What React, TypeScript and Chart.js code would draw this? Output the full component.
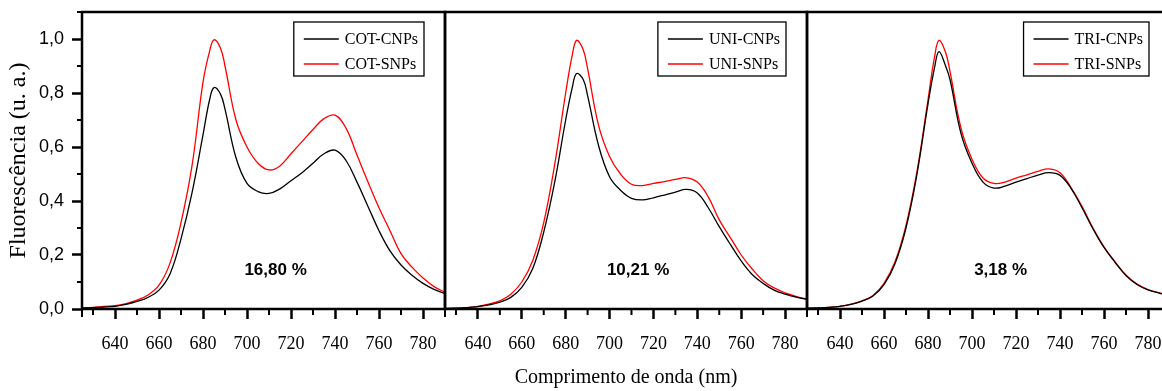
import React, { useEffect, useRef } from 'react';
import { Chart, registerables } from 'chart.js';

Chart.register(...registerables);

// ---------- data ----------
const wavelengths = [625, 630, 635, 640, 645, 650, 655, 660, 665, 670, 675, 680, 683, 685, 688, 690, 695, 700, 705, 710, 715, 720, 725, 730, 735, 740, 745, 750, 755, 760, 765, 770, 775, 780, 785, 790];

const cotCNPs = [0.003, 0.005, 0.007, 0.010, 0.017, 0.028, 0.043, 0.07, 0.13, 0.26, 0.43, 0.645, 0.775, 0.82, 0.795, 0.74, 0.56, 0.465, 0.435, 0.428, 0.445, 0.475, 0.505, 0.54, 0.575, 0.588, 0.55, 0.47, 0.38, 0.29, 0.215, 0.163, 0.125, 0.095, 0.073, 0.057];
const cotSNPs = [0.004, 0.006, 0.010, 0.012, 0.02, 0.033, 0.052, 0.088, 0.17, 0.32, 0.53, 0.84, 0.955, 0.997, 0.965, 0.90, 0.70, 0.60, 0.54, 0.515, 0.53, 0.575, 0.62, 0.665, 0.705, 0.718, 0.67, 0.57, 0.47, 0.375, 0.29, 0.205, 0.155, 0.115, 0.083, 0.062];

const uniCNPs = [0.002, 0.003, 0.005, 0.009, 0.015, 0.025, 0.043, 0.08, 0.15, 0.285, 0.47, 0.70, 0.82, 0.872, 0.85, 0.79, 0.605, 0.49, 0.44, 0.41, 0.404, 0.412, 0.422, 0.433, 0.443, 0.43, 0.375, 0.305, 0.24, 0.178, 0.128, 0.095, 0.07, 0.055, 0.044, 0.036];
const uniSNPs = [0.002, 0.003, 0.005, 0.01, 0.018, 0.03, 0.055, 0.10, 0.18, 0.32, 0.535, 0.80, 0.94, 0.995, 0.96, 0.89, 0.68, 0.565, 0.50, 0.462, 0.457, 0.465, 0.472, 0.48, 0.486, 0.47, 0.415, 0.33, 0.265, 0.20, 0.148, 0.105, 0.078, 0.06, 0.047, 0.036];

const triCNPs = [0.003, 0.004, 0.006, 0.01, 0.017, 0.029, 0.048, 0.09, 0.168, 0.30, 0.50, 0.76, 0.895, 0.953, 0.90, 0.85, 0.65, 0.54, 0.47, 0.448, 0.455, 0.47, 0.483, 0.496, 0.505, 0.495, 0.447, 0.375, 0.297, 0.228, 0.173, 0.124, 0.091, 0.071, 0.059, 0.05];
const triSNPs = [0.003, 0.004, 0.006, 0.01, 0.018, 0.03, 0.05, 0.095, 0.175, 0.31, 0.51, 0.775, 0.935, 0.995, 0.95, 0.88, 0.67, 0.555, 0.485, 0.465, 0.47, 0.485, 0.497, 0.51, 0.519, 0.505, 0.45, 0.38, 0.30, 0.23, 0.175, 0.125, 0.092, 0.072, 0.06, 0.05];

const cotLabels = ['COT-CNPs', 'COT-SNPs'];
const uniLabels = ['UNI-CNPs', 'UNI-SNPs'];
const triLabels = ['TRI-CNPs', 'TRI-SNPs'];
const quenchingLabels = ['16,80 %', '10,21 %', '3,18 %'];

const yAxisTitle = 'Fluorescência (u. a.)';
const xAxisTitle = 'Comprimento de onda (nm)';

// ---------- style / layout ----------
const SERIF = '"Liberation Serif", "Times New Roman", serif';
const SANS = '"Liberation Sans", Arial, sans-serif';
const H = 391;
const X_MIN = 625;
const X_MAX = 790;
const Y_MIN = 0;
const Y_MAX = 1.1;
const LABEL_AT_X = 713;
const LABEL_AT_Y = 0.145;

const PANEL_LAYOUT = [
  { left: 0, width: 450, padLeft: 0, padRight: 5, showY: true, showXTitle: false },
  { left: 440, width: 372, padLeft: 5, padRight: 5, showY: false, showXTitle: true },
  { left: 802, width: 372, padLeft: 5, padRight: 4, showY: false, showXTitle: false },
];

const PANEL_DATA = [
  { black: cotCNPs, red: cotSNPs, labels: cotLabels, pct: quenchingLabels[0] },
  { black: uniCNPs, red: uniSNPs, labels: uniLabels, pct: quenchingLabels[1] },
  { black: triCNPs, red: triSNPs, labels: triLabels, pct: quenchingLabels[2] },
];

function makeDecor(pct: string, showY: boolean) {
  return {
    id: 'panelDecor',
    afterDatasetsDraw(chart: any) {
      const { ctx, chartArea: a, scales } = chart;
      const x = scales.x;
      const y = scales.y;
      ctx.save();
      // frame
      ctx.strokeStyle = '#000';
      ctx.lineWidth = 2.5;
      ctx.strokeRect(a.left, a.top, a.right - a.left, a.bottom - a.top);
      // minor x ticks
      ctx.lineWidth = 2;
      ctx.beginPath();
      const xt = x.ticks.map((t: any) => t.value);
      const minorX: number[] = [];
      xt.forEach((v: number) => {
        minorX.push(v - 10);
      });
      if (xt.length) minorX.push(xt[xt.length - 1] + 10);
      minorX.forEach((v) => {
        if (v < X_MIN || v > X_MAX) return;
        const px = x.getPixelForValue(v);
        ctx.moveTo(px, a.bottom);
        ctx.lineTo(px, a.bottom + 6);
      });
      // small downward tick at panel left edge
      ctx.moveTo(a.left, a.bottom);
      ctx.lineTo(a.left, a.bottom + 8);
      if (showY) {
        const yt = y.ticks.map((t: any) => t.value);
        yt.forEach((v: number) => {
          const mv = v + 0.1;
          if (mv > Y_MAX) return;
          const py = y.getPixelForValue(mv);
          ctx.moveTo(a.left, py);
          ctx.lineTo(a.left - 5, py);
        });
      }
      ctx.stroke();

      // quenching percentage
      ctx.fillStyle = '#000';
      ctx.font = `bold 17px ${SANS}`;
      ctx.textAlign = 'center';
      ctx.textBaseline = 'middle';
      ctx.fillText(pct, x.getPixelForValue(LABEL_AT_X), y.getPixelForValue(LABEL_AT_Y));

      // legend box
      ctx.font = `16px ${SERIF}`;
      ctx.textAlign = 'left';
      const ds = chart.data.datasets;
      let maxW = 0;
      ds.forEach((d: any) => {
        maxW = Math.max(maxW, ctx.measureText(d.label).width);
      });
      const boxW = 10 + 35 + 6 + maxW + 6;
      const boxH = 54;
      const bx = a.right - 21 - boxW;
      const by = a.top + 10;
      ctx.lineWidth = 1.3;
      ctx.strokeStyle = '#000';
      ctx.strokeRect(bx, by, boxW, boxH);
      ds.forEach((d: any, i: number) => {
        const ry = by + 17 + i * 25;
        ctx.strokeStyle = d.borderColor;
        ctx.lineWidth = 1.4;
        ctx.beginPath();
        ctx.moveTo(bx + 10, ry);
        ctx.lineTo(bx + 45, ry);
        ctx.stroke();
        ctx.fillStyle = '#000';
        ctx.fillText(d.label, bx + 51, ry + 1);
      });
      ctx.restore();
    },
  };
}

function Panel({ index }: { index: number }) {
  const ref = useRef<HTMLCanvasElement | null>(null);
  const lay = PANEL_LAYOUT[index];
  const pd = PANEL_DATA[index];

  useEffect(() => {
    if (!ref.current) return;
    const chart = new Chart(ref.current, {
      type: 'line',
      data: {
        datasets: [
          {
            label: pd.labels[0],
            data: wavelengths.map((w, i) => ({ x: w, y: pd.black[i] })),
            borderColor: '#000000',
            borderWidth: 1.3,
            pointRadius: 0,
            tension: 0.4,
            fill: false,
          },
          {
            label: pd.labels[1],
            data: wavelengths.map((w, i) => ({ x: w, y: pd.red[i] })),
            borderColor: '#ff0000',
            borderWidth: 1.3,
            pointRadius: 0,
            tension: 0.4,
            fill: false,
          },
        ],
      },
      options: {
        animation: false,
        responsive: false,
        devicePixelRatio: 1,
        layout: { padding: { top: 12, bottom: 0, left: lay.padLeft, right: lay.padRight } },
        plugins: { legend: { display: false }, tooltip: { enabled: false } },
        events: [],
        scales: {
          x: {
            type: 'linear',
            min: X_MIN,
            max: X_MAX,
            border: { display: false },
            grid: { drawOnChartArea: false, drawTicks: true, tickLength: 10, tickWidth: 2.5, tickColor: '#000' },
            ticks: {
              stepSize: 20,
              includeBounds: false,
              autoSkip: false,
              maxRotation: 0,
              padding: 14,
              color: '#000',
              font: { family: SERIF, size: 18 },
            },
            title: {
              display: lay.showXTitle,
              text: xAxisTitle,
              color: '#000',
              font: { family: SERIF, size: 20 },
              padding: { top: 0, bottom: 1 },
            },
            afterFit: (s: any) => {
              s.height = 82;
              s.paddingLeft = 0;
              s.paddingRight = 0;
            },
          },
          y: {
            display: lay.showY,
            min: Y_MIN,
            max: Y_MAX,
            border: { display: false },
            grid: { drawOnChartArea: false, drawTicks: true, tickLength: 10, tickWidth: 2.5, tickColor: '#000' },
            ticks: {
              stepSize: 0.2,
              includeBounds: false,
              padding: 8,
              color: '#000',
              font: { family: SANS, size: 18 },
              callback: (v: any) => (Math.round(Number(v) * 10) / 10).toFixed(1).replace('.', ','),
            },
            title: {
              display: lay.showY,
              text: yAxisTitle,
              color: '#000',
              font: { family: SERIF, size: 24 },
              padding: { top: 4, bottom: 0 },
            },
            afterFit: (s: any) => {
              s.width = lay.showY ? 82 : 0;
              s.paddingTop = 0;
              s.paddingBottom = 0;
            },
          },
        },
      },
      plugins: [makeDecor(pd.pct, lay.showY)],
    } as any);
    return () => chart.destroy();
  }, [index]);

  return (
    <canvas
      ref={ref}
      width={lay.width}
      height={H}
      style={{ position: 'absolute', left: lay.left, top: 0, width: lay.width, height: H }}
    />
  );
}

export default function App() {
  return (
    <div
      style={{
        position: 'absolute',
        left: 0,
        top: 0,
        width: 1162,
        height: H,
        overflow: 'hidden',
        background: '#fff',
      }}
    >
      <Panel index={0} />
      <Panel index={1} />
      <Panel index={2} />
    </div>
  );
}
